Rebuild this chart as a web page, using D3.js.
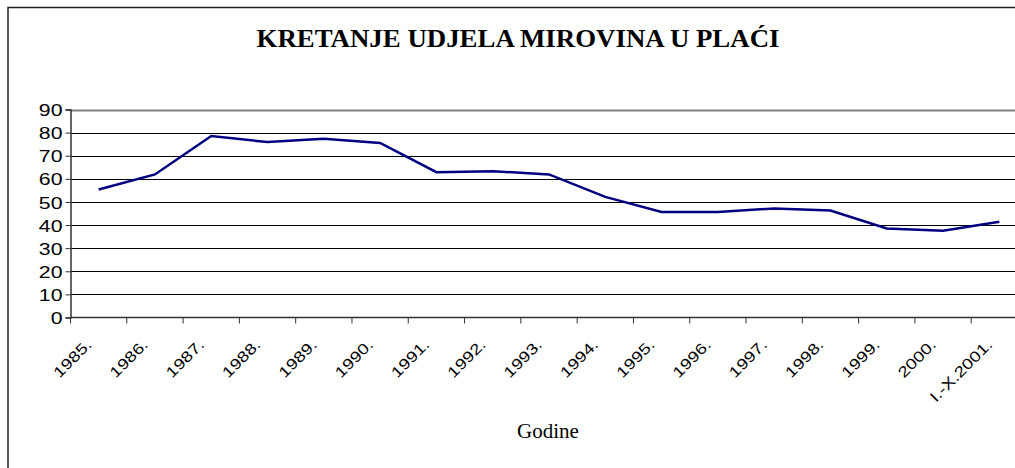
<!DOCTYPE html>
<html>
<head>
<meta charset="utf-8">
<script src="https://cdn.jsdelivr.net/npm/d3@7"></script>
<style>
  body { margin: 0; background: #fff; }
  svg { display: block; }
</style>
</head>
<body>
<div id="chart"></div>
<script>
// data
var years = ["1985.", "1986.", "1987.", "1988.", "1989.", "1990.", "1991.", "1992.", "1993.",
  "1994.", "1995.", "1996.", "1997.", "1998.", "1999.", "2000.", "I.-X.2001."];
var udjel = [55.4, 61.9, 78.5, 75.9, 77.3, 75.5, 62.9, 63.3, 61.9,
  52.2, 45.7, 45.7, 47.2, 46.3, 38.5, 37.5, 41.4];
var yTicks = [0, 10, 20, 30, 40, 50, 60, 70, 80, 90];

var width = 1015, height = 468;
var plot = { left: 70.5, right: 1027.5, top: 109.5, bottom: 317.5 };

var svg = d3.select("#chart")
  .append("svg")
  .attr("width", width)
  .attr("height", height);

// outer chart frame (runs off the right and bottom of the picture)
svg.append("rect")
  .attr("x", 8)
  .attr("y", 7.5)
  .attr("width", 1040)
  .attr("height", 480)
  .attr("fill", "none")
  .attr("stroke", "#222")
  .attr("stroke-width", 1.5);

var x = d3.scaleBand()
  .domain(years)
  .range([plot.left, plot.right]);

var y = d3.scaleLinear()
  .domain([0, 90])
  .range([plot.bottom, plot.top]);

// gridlines
svg.append("g")
  .selectAll(".grid")
  .data(yTicks.filter(function(d) { return d > 0; }))
  .enter()
  .append("line")
  .attr("class", "grid")
  .attr("x1", plot.left)
  .attr("x2", plot.right)
  .attr("y1", function(d) { return Math.round(y(d)) + 0.5; })
  .attr("y2", function(d) { return Math.round(y(d)) + 0.5; })
  .attr("stroke", function(d) { return d == 90 ? "#808080" : "#000"; })
  .attr("stroke-width", function(d) { return d == 90 ? 2 : 1; });

// y axis
var yAxis = svg.append("g")
  .attr("transform", "translate(" + plot.left + ",0)")
  .call(d3.axisLeft(y).tickValues(yTicks).tickSize(5).tickPadding(4));
yAxis.select(".domain").attr("stroke", "#333").attr("stroke-width", 1.5);
yAxis.selectAll(".tick line").attr("stroke", "#333");
yAxis.selectAll(".tick text")
  .attr("font-family", "Liberation Sans, Arial, sans-serif")
  .attr("font-size", "17px")
  .attr("fill", "#000")
  .attr("x", 0)
  .attr("dy", "0.36em")
  .attr("transform", "translate(-8,0) scale(1.25,1)");

// x axis, ticks between categories
var xAxis = svg.append("g")
  .attr("transform", "translate(0," + plot.bottom + ")");
xAxis.append("line")
  .attr("x1", plot.left)
  .attr("x2", plot.right)
  .attr("stroke", "#333")
  .attr("stroke-width", 1.5);
xAxis.selectAll(".xtick")
  .data(years)
  .enter()
  .append("line")
  .attr("class", "xtick")
  .attr("x1", function(d) { return x(d); })
  .attr("x2", function(d) { return x(d); })
  .attr("y1", 0)
  .attr("y2", 6)
  .attr("stroke", "#333");

xAxis.selectAll(".xlabel")
  .data(years)
  .enter()
  .append("text")
  .attr("class", "xlabel")
  .attr("text-anchor", "end")
  .attr("font-family", "Liberation Sans, Arial, sans-serif")
  .attr("font-size", "15px")
  .attr("transform", function(d) {
    var cx = x(d) + x.bandwidth() / 2;
    return "translate(" + (cx - 6) + ",28) rotate(-45) scale(1.25,1)";
  })
  .text(function(d) { return d; });

// the series
var line = d3.line()
  .x(function(d, i) { return x(years[i]) + x.bandwidth() / 2; })
  .y(function(d) { return y(d); });

svg.append("path")
  .datum(udjel)
  .attr("d", line)
  .attr("fill", "none")
  .attr("stroke", "#000080")
  .attr("stroke-width", 2.5);

// titles
svg.append("text")
  .attr("x", 518)
  .attr("y", 47)
  .attr("text-anchor", "middle")
  .attr("font-family", "Liberation Serif, Times New Roman, serif")
  .attr("font-weight", "bold")
  .attr("font-size", "25px")
  .attr("textLength", 523)
  .attr("lengthAdjust", "spacingAndGlyphs")
  .text("KRETANJE UDJELA MIROVINA U PLAĆI");

svg.append("text")
  .attr("x", 548)
  .attr("y", 438)
  .attr("text-anchor", "middle")
  .attr("font-family", "Liberation Serif, Times New Roman, serif")
  .attr("font-size", "21px")
  .text("Godine");
</script>
</body>
</html>
